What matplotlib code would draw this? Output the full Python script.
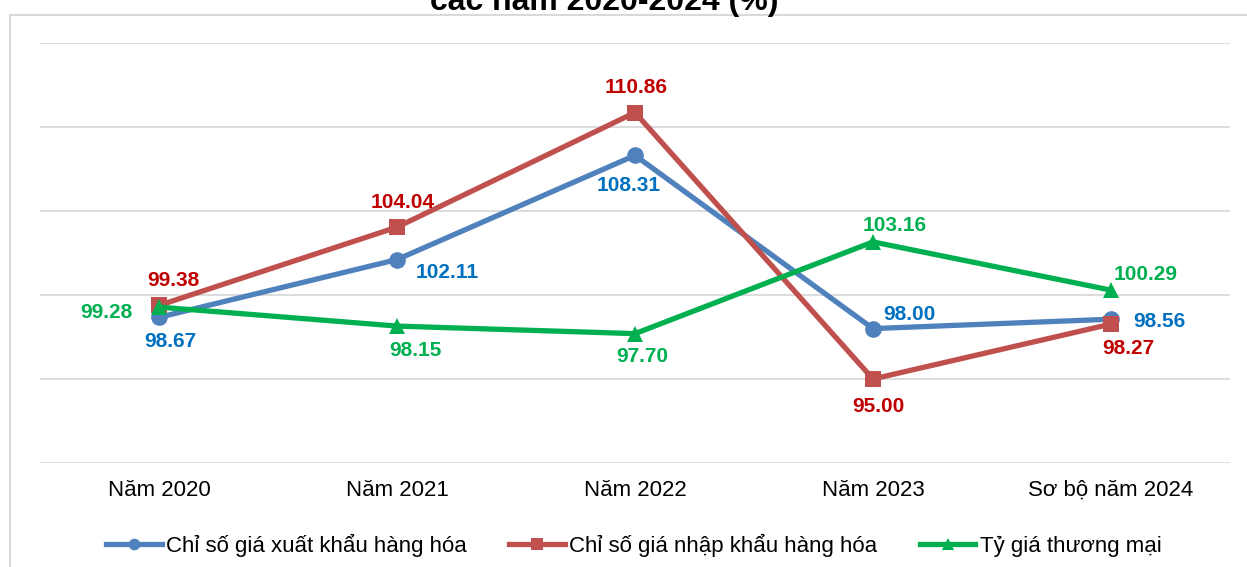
import matplotlib
matplotlib.use("Agg")
import matplotlib.pyplot as plt
from matplotlib.lines import Line2D

plt.rcParams['font.family'] = ['Liberation Sans', 'DejaVu Sans']

categories = ["Năm 2020", "Năm 2021", "Năm 2022", "Năm 2023", "Sơ bộ năm 2024"]
export_idx = [98.67, 102.11, 108.31, 98.00, 98.56]
import_idx = [99.38, 104.04, 110.86, 95.00, 98.27]
trade_idx = [99.28, 98.15, 97.70, 103.16, 100.29]
series_names = ["Chỉ số giá xuất khẩu hàng hóa", "Chỉ số giá nhập khẩu hàng hóa", "Tỷ giá thương mại"]
title_text = "các năm 2020-2024 (%)"

# label offsets (pixels)
off_export = [(11, -24), (50, -13), (-6, -30), (36, 14), (48, -2)]
off_import = [(14, 25), (6, 25), (1, 25), (5, -28), (17, -24)]
off_trade = [(-53, -5), (18, -24), (7, -23), (22, 16), (35, 16)]

W, H = 1247, 567
fig = plt.figure(figsize=(W / 100, H / 100), dpi=100)
ax = fig.add_axes([40 / W, (H - 463) / H, 1190 / W, 420 / H])

x = list(range(len(categories)))
styles = [
    (export_idx, "#4f81bd", "o", "#0070c0", off_export, 12),
    (import_idx, "#c0504d", "s", "#c00000", off_import, 11.5),
    (trade_idx, "#00b050", "^", "#00b050", off_trade, 12),
]
handles = []
for (vals, lc, mk, tc, offs, ms), name in zip(styles, series_names):
    ax.plot(x, vals, color=lc, lw=3.8, marker=mk, ms=ms, markeredgewidth=0,
            solid_joinstyle='miter', zorder=3)
    for xi, v, (dx, dy) in zip(x, vals, offs):
        ax.annotate(f"{v:.2f}", (xi, v), xytext=(dx, dy), textcoords='offset pixels',
                    ha='center', va='center', fontsize=15, fontweight='bold', color=tc, zorder=5)
    handles.append(Line2D([], [], color=lc, lw=3.8, marker=mk, ms=ms * 0.7, markeredgewidth=0))

ax.set_xlim(-0.5, 4.5)
ax.set_ylim(90, 115)
ax.set_yticks([90, 95, 100, 105, 110, 115])
ax.set_yticklabels([])
ax.tick_params(axis='y', length=0)
ax.yaxis.grid(True, color='#d9d9d9', lw=1.3)
ax.set_axisbelow(True)
ax.set_xticks(x)
ax.set_xticklabels(categories, fontsize=16)
ax.tick_params(axis='x', length=0, pad=12)
for s in ax.spines.values():
    s.set_visible(False)

fig.legend(handles, series_names, loc='center', bbox_to_anchor=(634 / W, 1 - 545 / H),
           ncol=3, frameon=False, fontsize=16, handlelength=2.5, handletextpad=0.2,
           columnspacing=1.9)

# chart border lines
fig.add_artist(Line2D([10 / W, 10 / W], [0, 1 - 14.5 / H], color='#d9d9d9', lw=1.5,
                      transform=fig.transFigure))
fig.add_artist(Line2D([10 / W, 1], [1 - 14.5 / H, 1 - 14.5 / H], color='#d9d9d9', lw=1.5,
                      transform=fig.transFigure))

fig.text(604 / W, 1 - 10 / H, title_text, ha='center', va='baseline', fontsize=23,
         fontweight='bold', color='black')

fig.savefig("out.png", dpi=100)
